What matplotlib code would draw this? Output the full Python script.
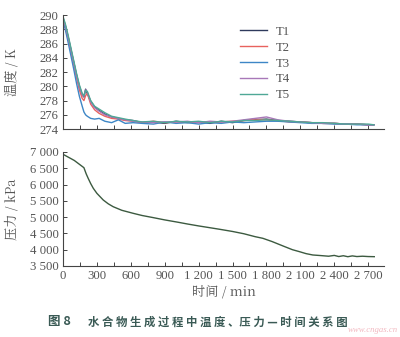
import matplotlib
matplotlib.use("Agg")
import matplotlib.pyplot as plt
from matplotlib.ticker import MultipleLocator, FuncFormatter
import logging
logging.getLogger('matplotlib.font_manager').setLevel(logging.ERROR)

plt.rcParams['font.family'] = ['Liberation Serif', 'Noto Sans CJK SC', 'DejaVu Sans']
CJK = ['Noto Serif CJK SC', 'Noto Sans CJK SC', 'DejaVu Sans']

# ---- data ----
t = [0, 20, 45, 70, 95, 120, 145, 170, 185, 200, 215, 245, 280, 320, 370, 430, 490, 550,
     620, 700, 800, 900, 1000, 1100, 1200, 1300, 1400, 1500, 1600, 1700,
     1800, 1900, 2000, 2100, 2200, 2300, 2400, 2500, 2600, 2700, 2750]
T1 = [289.6, 288.6, 287.0, 285.2, 283.4, 281.6, 280.0, 278.8, 278.5, 279.6, 279.0, 277.9,
      277.1, 276.6, 276.1, 275.7, 275.5, 275.3, 275.2, 274.9, 275.0, 274.8, 275.1, 274.9,
      275.0, 274.8, 275.1, 274.9, 275.2, 275.3, 275.4, 275.2, 275.1, 275.0, 274.9,
      274.8, 274.8, 274.7, 274.7, 274.6, 274.6]
T2 = [289.4, 288.3, 286.7, 284.9, 283.0, 281.2, 279.5, 278.3, 278.0, 278.7, 279.0, 277.5,
      276.7, 276.2, 275.8, 275.5, 275.4, 275.2, 275.1, 274.9, 275.1, 274.9, 275.0, 275.0,
      274.9, 275.0, 275.0, 275.1, 275.2, 275.4, 275.3, 275.2, 275.0, 275.0, 274.9,
      274.8, 274.8, 274.7, 274.7, 274.6, 274.6]
T3 = [289.2, 288.0, 286.2, 284.3, 282.4, 280.4, 278.6, 277.2, 276.4, 276.0, 275.8, 275.5,
      275.4, 275.5, 275.1, 274.9, 275.3, 274.8, 274.9, 274.8, 274.7, 275.0, 274.8, 274.9,
      274.7, 274.9, 274.8, 275.0, 274.9, 275.0, 275.1, 275.1, 275.0, 274.9, 274.8,
      274.8, 274.7, 274.7, 274.6, 274.6, 274.6]
T4 = [289.5, 288.5, 286.9, 285.1, 283.3, 281.5, 279.9, 278.8, 278.6, 279.5, 279.2, 277.8,
      277.0, 276.5, 276.0, 275.7, 275.5, 275.3, 275.1, 275.0, 274.9, 275.0, 275.0, 275.1,
      274.9, 275.1, 275.0, 275.1, 275.3, 275.5, 275.7, 275.3, 275.1, 275.0, 274.9,
      274.8, 274.8, 274.7, 274.7, 274.6, 274.6]
T5 = [289.8, 288.8, 287.2, 285.4, 283.6, 281.8, 280.2, 279.0, 278.7, 279.4, 279.3, 278.0,
      277.2, 276.8, 276.3, 275.8, 275.6, 275.4, 275.2, 275.0, 275.1, 274.9, 275.1, 275.0,
      275.1, 274.9, 275.1, 275.0, 275.2, 275.2, 275.3, 275.2, 275.1, 275.0, 274.9,
      274.9, 274.8, 274.7, 274.7, 274.7, 274.6]

tp = [0, 100, 185, 205, 223, 245, 268, 300, 356, 400, 444, 520, 621, 700, 797, 900, 1018,
      1100, 1200, 1300, 1386, 1500, 1600, 1700, 1768, 1850, 1950, 2030, 2092, 2150, 2210,
      2280, 2350, 2400, 2440, 2480, 2520, 2560, 2600, 2650, 2700, 2754]
P = [6930, 6740, 6518, 6330, 6190, 6030, 5885, 5730, 5526, 5410, 5320, 5210, 5117, 5050,
     4986, 4915, 4843, 4790, 4730, 4675, 4627, 4560, 4490, 4400, 4350, 4250, 4110, 4000,
     3940, 3880, 3838, 3820, 3800, 3825, 3790, 3815, 3785, 3810, 3790, 3800, 3790, 3786]

labels = ['T1', 'T2', 'T3', 'T4', 'T5']
colors = ['#2e3a5c', '#e8625e', '#3d86c6', '#a878b8', '#4fa896']

tick_color = '#555555'

fig = plt.figure(figsize=(4.0, 3.37), dpi=100)
ax1 = fig.add_axes([0.1575, 0.617, 0.8025, 0.3383])
ax2 = fig.add_axes([0.1575, 0.2107, 0.8025, 0.3383])

for lab, c, y in zip(labels, colors, [T1, T2, T3, T4, T5]):
    ax1.plot(t, y, color=c, lw=1.0, label=lab)

ax2.plot(tp, P, color='#3c5a40', lw=1.0)

fmt_sp = FuncFormatter(lambda v, p: (f"{int(v)//1000} {int(v)%1000:03d}" if v >= 1000 else f"{int(v)}"))

for ax in (ax1, ax2):
    ax.set_xlim(0, 2840)
    ax.spines['top'].set_visible(False)
    ax.spines['right'].set_visible(False)
    for s in ('left', 'bottom'):
        ax.spines[s].set_color('#444444')
        ax.spines[s].set_linewidth(0.8)
    ax.xaxis.set_major_locator(MultipleLocator(300))
    ax.xaxis.set_minor_locator(MultipleLocator(150))
    ax.tick_params(axis='both', which='both', direction='in', colors='#444444',
                   labelcolor=tick_color, labelsize=9.2, length=3, width=0.7, pad=3)
    ax.set_facecolor('none')

ax1.set_ylim(274, 290)
ax1.yaxis.set_major_locator(MultipleLocator(2))
ax1.tick_params(axis='x', labelbottom=False)
ax1.set_ylabel('温度 / K', color=tick_color, fontsize=9.5, family=CJK)
ax1.yaxis.set_label_coords(-0.14, 0.5)

ax2.set_ylim(3500, 7000)
ax2.yaxis.set_major_locator(MultipleLocator(500))
ax2.yaxis.set_major_formatter(fmt_sp)
ax2.xaxis.set_major_formatter(fmt_sp)
ax2.set_ylabel('压力 / kPa', color=tick_color, fontsize=9.5, family=CJK)
ax2.yaxis.set_label_coords(-0.14, 0.5)
ax2.set_xlabel('时间 / min', color=tick_color, fontsize=9.5, family=CJK, labelpad=2)

leg = ax1.legend(loc='upper left', bbox_to_anchor=(0.535, 0.95), frameon=False,
                 fontsize=9.2, handlelength=2.1, labelspacing=0.3, handletextpad=0.7,
                 borderaxespad=0)
for txt in leg.get_texts():
    txt.set_color(tick_color)

fig.text(0.12, 0.045, '图 8', fontsize=9, fontweight='bold', color='#3a5a55',
         family=['Noto Sans CJK SC', 'DejaVu Sans'], va='center')
fig.text(0.22, 0.045, '水 合 物 生 成 过 程 中 温 度 、压 力 — 时 间 关 系 图', fontsize=8.2,
         fontweight='bold', color='#3a5a55', family=['Noto Sans CJK SC', 'DejaVu Sans'],
         va='center')
fig.text(0.995, 0.01, 'www.cngas.cn', fontsize=6.3, color='#f2b8c0', ha='right',
         va='bottom', style='italic', family=['Liberation Serif'])

fig.savefig('out.png', dpi=100)
